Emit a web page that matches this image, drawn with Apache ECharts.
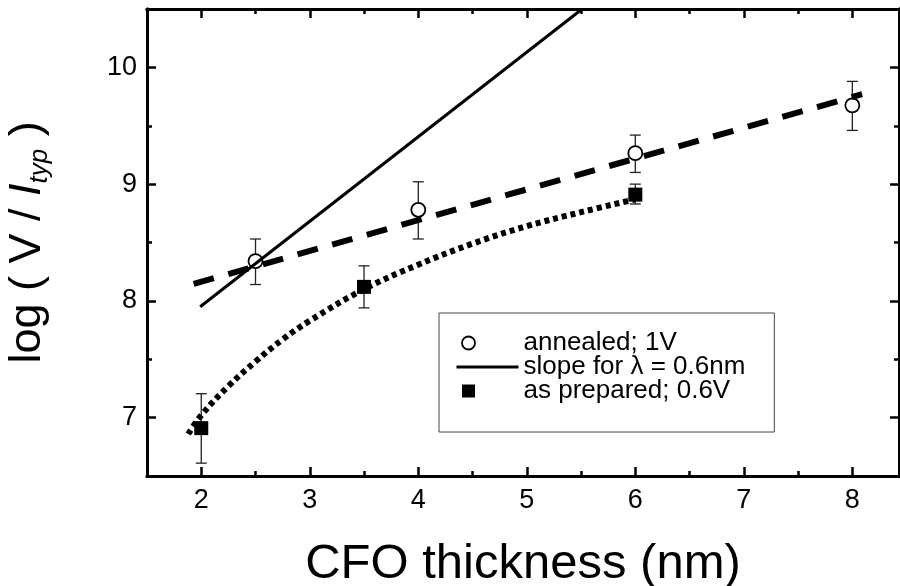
<!DOCTYPE html>
<html lang="en">
<head>
<meta charset="UTF-8">
<title>CFO thickness</title>
<script src="https://cdn.jsdelivr.net/npm/echarts@6/dist/echarts.min.js"></script>
<style>
  * {margin: 0; padding: 0;}
  html, body {width: 100%; height: 100%; background: #fff; overflow: hidden;}
  #main {width: 900px; height: 586px;}
</style>
</head>
<body>
<div id="main"></div>
<script>
// tick positions
var xMajor = [2, 3, 4, 5, 6, 7, 8]
var xMinor = [2.5, 3.5, 4.5, 5.5, 6.5, 7.5]
var yMajor = [7, 8, 9, 10]
var yMinor = [7.5, 8.5, 9.5]

// annealed; 1V (open circles)
var annX = [2.5, 4, 6, 8]
var annY = [8.34, 8.78, 9.265, 9.675]
var annLo = [8.14, 8.53, 9.10, 9.46]
var annHi = [8.53, 9.02, 9.42, 9.88]

// as prepared; 0.6V (filled squares)
var prepX = [2, 3.5, 6]
var prepY = [6.91, 8.12, 8.91]
var prepLo = [6.61, 7.94, 8.83]
var prepHi = [7.205, 8.30, 9.0]

// slope for lambda = 0.6nm
var slopeX = [1.99, 5.51]
var slopeY = [7.95, 10.5]

// dashed fit through annealed points
var dashX = [1.93, 8.09]
var dashY = [8.145, 9.77]

// dotted curve through as-prepared points
var dotX = [1.88, 2.0, 2.25, 2.5, 2.75, 3.0, 3.5, 4.0, 4.5, 5.0, 5.5, 6.0]
var dotY = [6.86, 7.02, 7.27, 7.48, 7.67, 7.83, 8.10, 8.31, 8.49, 8.64, 8.76, 8.87]

var annName = 'annealed; 1V'
var slopeName = 'slope for λ = 0.6nm'
var prepName = 'as prepared; 0.6V'

var FONT = '"Liberation Sans", Arial, sans-serif'

function pairs (xs, ys) {
  return xs.map(function (x, i) { return [x, ys[i]] })
}
function bars (xs, lo, hi) {
  return xs.map(function (x, i) { return [x, lo[i], hi[i]] })
}

function xAx (pos, ticks, len, labels) {
  return {
    type: 'value', position: pos, min: 1.5, max: 8.43,
    axisLine: {show: true, onZero: false, lineStyle: {color: '#000', width: 3}},
    axisTick: {show: true, inside: true, length: len, customValues: ticks, lineStyle: {color: '#000', width: 2.5}},
    axisLabel: labels ? {show: true, customValues: ticks, margin: 11, color: '#000', fontSize: 27, fontFamily: FONT} : {show: false},
    splitLine: {show: false}
  }
}
function yAx (pos, ticks, len, labels) {
  return {
    type: 'value', position: pos, min: 6.5, max: 10.5,
    axisLine: {show: true, onZero: false, lineStyle: {color: '#000', width: 3}},
    axisTick: {show: true, inside: true, length: len, customValues: ticks, lineStyle: {color: '#000', width: 2.5}},
    axisLabel: labels ? {show: true, customValues: ticks, margin: 10, color: '#000', fontSize: 27, fontFamily: FONT} : {show: false},
    splitLine: {show: false}
  }
}

function renderErr (params, api) {
  var x = api.value(0)
  var lo = api.coord([x, api.value(1)])
  var hi = api.coord([x, api.value(2)])
  var w = 5.5
  var st = {stroke: '#222', lineWidth: 1.3, fill: null}
  return {
    type: 'group',
    children: [
      {type: 'line', shape: {x1: lo[0], y1: lo[1], x2: hi[0], y2: hi[1]}, style: st},
      {type: 'line', shape: {x1: lo[0] - w, y1: lo[1], x2: lo[0] + w, y2: lo[1]}, style: st},
      {type: 'line', shape: {x1: hi[0] - w, y1: hi[1], x2: hi[0] + w, y2: hi[1]}, style: st}
    ]
  }
}

// legend icons inside a 62x14 box
var circleIcon = 'path://M0 0M62 14M18.5 7A6.5 6.5 0 1 1 5.5 7A6.5 6.5 0 1 1 18.5 7Z'
var squareIcon = 'path://M0 0M62 14M5.5 0.5L18.5 0.5L18.5 13.5L5.5 13.5Z'
var lineIcon = 'path://M0 0M62 14M0 7L62 7'

var xAxisName = xAx('bottom', xMajor, 9, true)
xAxisName.name = 'CFO thickness (nm)'
xAxisName.nameLocation = 'middle'
xAxisName.nameGap = 64
xAxisName.nameTextStyle = {color: '#000', fontSize: 49, fontFamily: FONT}

var yAxisName = yAx('left', yMajor, 9, true)
yAxisName.name = '{n|log ( V / }{i|I}{s|typ}{n| )}'
yAxisName.nameLocation = 'middle'
yAxisName.nameGap = 94
yAxisName.nameTextStyle = {
  color: '#000',
  fontFamily: FONT,
  rich: {
    n: {fontSize: 45, lineHeight: 48, verticalAlign: 'top', fontFamily: FONT, color: '#000'},
    i: {fontSize: 45, lineHeight: 48, verticalAlign: 'top', fontStyle: 'italic', fontFamily: FONT, color: '#000'},
    s: {fontSize: 26, lineHeight: 14, verticalAlign: 'bottom', fontStyle: 'italic', fontFamily: FONT, color: '#000'}
  }
}

var option = {
  animation: false,
  backgroundColor: '#fff',
  grid: {left: 147, top: 9, width: 752, height: 467, outerBoundsMode: 'none'},
  xAxis: [
    xAxisName,
    xAx('bottom', xMinor, 5, false),
    xAx('top', xMajor, 9, false),
    xAx('top', xMinor, 5, false)
  ],
  yAxis: [
    yAxisName,
    yAx('left', yMinor, 5, false),
    yAx('right', yMajor, 9, false),
    yAx('right', yMinor, 5, false)
  ],
  legend: {
    orient: 'vertical',
    left: 439,
    top: 313,
    padding: [17, 29, 28, 16],
    itemWidth: 62,
    itemHeight: 14,
    itemGap: -2,
    selectedMode: false,
    borderColor: '#444',
    borderWidth: 1,
    backgroundColor: '#fff',
    textStyle: {color: '#000', fontSize: 26, lineHeight: 23, fontFamily: FONT},
    data: [
      {name: annName, icon: circleIcon, itemStyle: {color: '#fff', borderColor: '#000', borderWidth: 1.8}},
      {name: slopeName, icon: lineIcon, itemStyle: {color: 'transparent', borderColor: '#000', borderWidth: 3}},
      {name: prepName, icon: squareIcon, itemStyle: {color: '#000', borderColor: '#000', borderWidth: 0}}
    ]
  },
  series: [
    {
      name: annName, type: 'scatter', z: 2,
      symbol: 'circle', symbolSize: 14,
      itemStyle: {color: '#fff', borderColor: '#000', borderWidth: 1.8, opacity: 1},
      data: pairs(annX, annY)
    },
    {
      name: prepName, type: 'scatter', z: 2,
      symbol: 'rect', symbolSize: 14,
      itemStyle: {color: '#000', opacity: 1},
      data: pairs(prepX, prepY)
    },
    {
      name: 'annErr', type: 'custom', z: 1,
      renderItem: renderErr, encode: {x: 0, y: [1, 2]},
      data: bars(annX, annLo, annHi)
    },
    {
      name: 'prepErr', type: 'custom', z: 1,
      renderItem: renderErr, encode: {x: 0, y: [1, 2]},
      data: bars(prepX, prepLo, prepHi)
    },
    {
      name: slopeName, type: 'line', z: 3,
      showSymbol: false, symbol: 'none',
      lineStyle: {color: '#000', width: 3},
      data: pairs(slopeX, slopeY)
    },
    {
      name: 'dashFit', type: 'line', z: 3,
      showSymbol: false, symbol: 'none',
      lineStyle: {color: '#000', width: 6, type: [21, 15]},
      data: pairs(dashX, dashY)
    },
    {
      name: 'dotFit', type: 'line', z: 3,
      showSymbol: false, symbol: 'none', smooth: 0.4,
      lineStyle: {color: '#000', width: 6, type: [5, 4]},
      data: pairs(dotX, dotY)
    }
  ]
}

var chart = echarts.init(document.getElementById('main'), null, {renderer: 'canvas'})
chart.setOption(option)
</script>
</body>
</html>
